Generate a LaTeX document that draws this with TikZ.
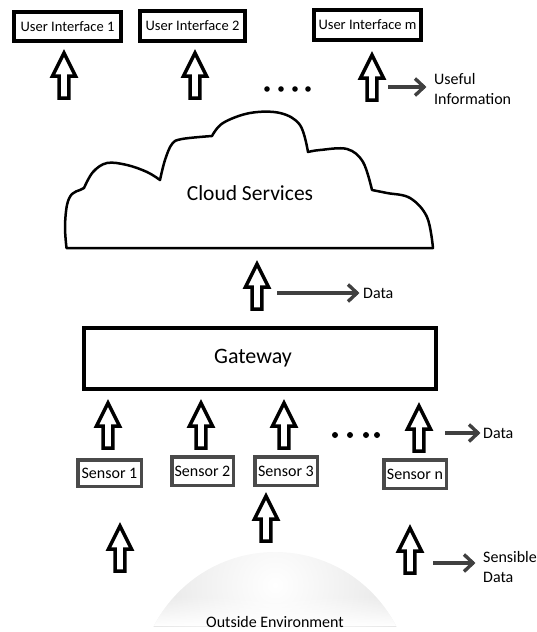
\documentclass[tikz,border=0pt]{standalone}
\usepackage{fontspec}
\setmainfont{Carlito}
\usetikzlibrary{arrows.meta,fadings}
\definecolor{dgray}{HTML}{404040}
\definecolor{sgray}{HTML}{4A4A4A}
\tikzset{
  uibox/.style={draw=black, line width=4pt, inner sep=0pt, font=\fontsize{14.5}{17}\selectfont},
  sensorbox/.style={draw=sgray, line width=3.5pt, inner sep=0pt, font=\fontsize{16}{19}\selectfont},
  gatebox/.style={draw=black, line width=4pt, inner sep=0pt, font=\fontsize{22}{26}\selectfont},
  lbl/.style={inner sep=0pt, font=\fontsize{16}{20}\selectfont, align=left},
  thinline/.style={draw=dgray, line width=3.4pt, line join=miter},
  dotmark/.style={fill=black},
  blockarrow/.pic={
    \draw[line width=3.5pt, line join=miter, miter limit=4]
      (-4.8,-1.8) -- (4.8,-1.8) -- (4.8,-24) -- (11.5,-24) -- (0,-47) --
      (-11.5,-24) -- (-4.8,-24) -- cycle;
  }
}
\newcommand\chevron[1]{\draw[thinline] ([shift={(-10,-8.5)}]#1) -- ([xshift=-1pt]#1) -- ([shift={(-10,8.5)}]#1);}
\begin{document}
\begin{tikzpicture}[x=1pt,y=-1pt]
\useasboundingbox (0,0) rectangle (536,632);

% globe (outside environment)
\begin{scope}
  \clip (275,688) circle (136);
  \clip (100,540) rectangle (450,626);
  \shade[inner color=white, outer color=gray!40] (275,585) circle (260);
  \fill[white, path fading=north] (120,596) rectangle (430,626);
\end{scope}
\node[lbl] (env) at (275,622) {Outside Environment};

% user interfaces
\node[uibox, minimum width=107pt, minimum height=29pt] (ui1) at (67.5,26.5) {User Interface 1};
\node[uibox, minimum width=105pt, minimum height=30pt] (ui2) at (192.5,26) {User Interface 2};
\node[uibox, minimum width=107pt, minimum height=30pt] (uim) at (367.5,25) {User Interface m};

\pic (aui1) at (64,100) {blockarrow};
\pic (aui2) at (195,100) {blockarrow};
\pic (auim) at (372,102) {blockarrow};

\foreach \x in {267,281,295,308} \fill[dotmark] (\x,89) circle (2.8);

\node[lbl] (useful) at (434,89) [anchor=west] {Useful\\Information};
\coordinate (uf0) at (388,87);
\coordinate (uf1) at (uf0 -| useful.west);
\coordinate (uf2) at ([xshift=-9pt]uf1);
\draw[thinline] (uf0) -- (uf2);
\chevron{uf2}

% cloud
\draw[line width=2.5pt, line join=round]
  plot[smooth, tension=0.6] coordinates {(66.5,248) (65,227) (67,205) (72,194) (80,190) (84,188)}
  -- plot[smooth, tension=0.6] coordinates {(84,188) (93,172) (107,163) (127,165) (147,172) (160,180)}
  -- plot[smooth, tension=0.6] coordinates {(160,180) (165,160) (172,144) (182,139) (212,136)}
  -- plot[smooth, tension=0.6] coordinates {(212,136) (223,123) (250,113) (280,113) (300,125) (308,152)}
  -- plot[smooth, tension=0.6] coordinates {(308,152) (320,150) (347,149) (363,162) (372,190)}
  -- plot[smooth, tension=0.6] coordinates {(372,190) (387,193) (410,198) (427,217) (433,248)}
  -- cycle;
\node[inner sep=0pt, font=\fontsize{21.5}{25}\selectfont] (cloud) at (250,193) {Cloud Services};

\pic (acg) at (257,311) {blockarrow};
\node[lbl] (data1) at (363,293) [anchor=west] {Data};
\coordinate (d1s) at (277,293);
\coordinate (d1e) at ([xshift=-5pt]data1.west);
\draw[thinline] (d1s) -- (d1e);
\chevron{d1e}

% gateway
\node[gatebox, minimum width=352pt, minimum height=61pt] (gw) at (260,358.5) {\hspace*{-14pt}Gateway};

% sensors
\pic (as1) at (108,450) {blockarrow};
\pic (as2) at (201,450) {blockarrow};
\pic (as3) at (284,450) {blockarrow};
\pic (asn) at (419,453) {blockarrow};

\foreach \x in {335,350,366,377} \fill[dotmark] (\x,435) circle (3);

\node[lbl] (data2) at (483,433) [anchor=west] {Data};
\coordinate (d2s) at (445,433);
\coordinate (d2e) at ([xshift=-4pt]data2.west);
\draw[thinline] (d2s) -- (d2e);
\chevron{d2e}

\node[sensorbox, minimum width=63.5pt, minimum height=26.5pt] (s1) at (109.5,473) {Sensor 1};
\node[sensorbox, minimum width=61.5pt, minimum height=28.5pt] (s2) at (202.5,471) {Sensor 2};
\node[sensorbox, minimum width=62.5pt, minimum height=28.5pt] (s3) at (286,471) {Sensor 3};
\node[sensorbox, minimum width=62.5pt, minimum height=28.5pt] (sn) at (415,474) {Sensor n};

% environment arrows
\pic (ae1) at (120,573) {blockarrow};
\pic (ae2) at (266,543) {blockarrow};
\pic (ae3) at (410,575) {blockarrow};

\node[lbl] (sens) at (483,567) [anchor=west] {Sensible\\Data};
\coordinate (sds) at (433,563);
\coordinate (sde0) at (sds -| sens.west);
\coordinate (sde) at ([xshift=-9pt]sde0);
\draw[thinline] (sds) -- (sde);
\chevron{sde}
\end{tikzpicture}
\end{document}
